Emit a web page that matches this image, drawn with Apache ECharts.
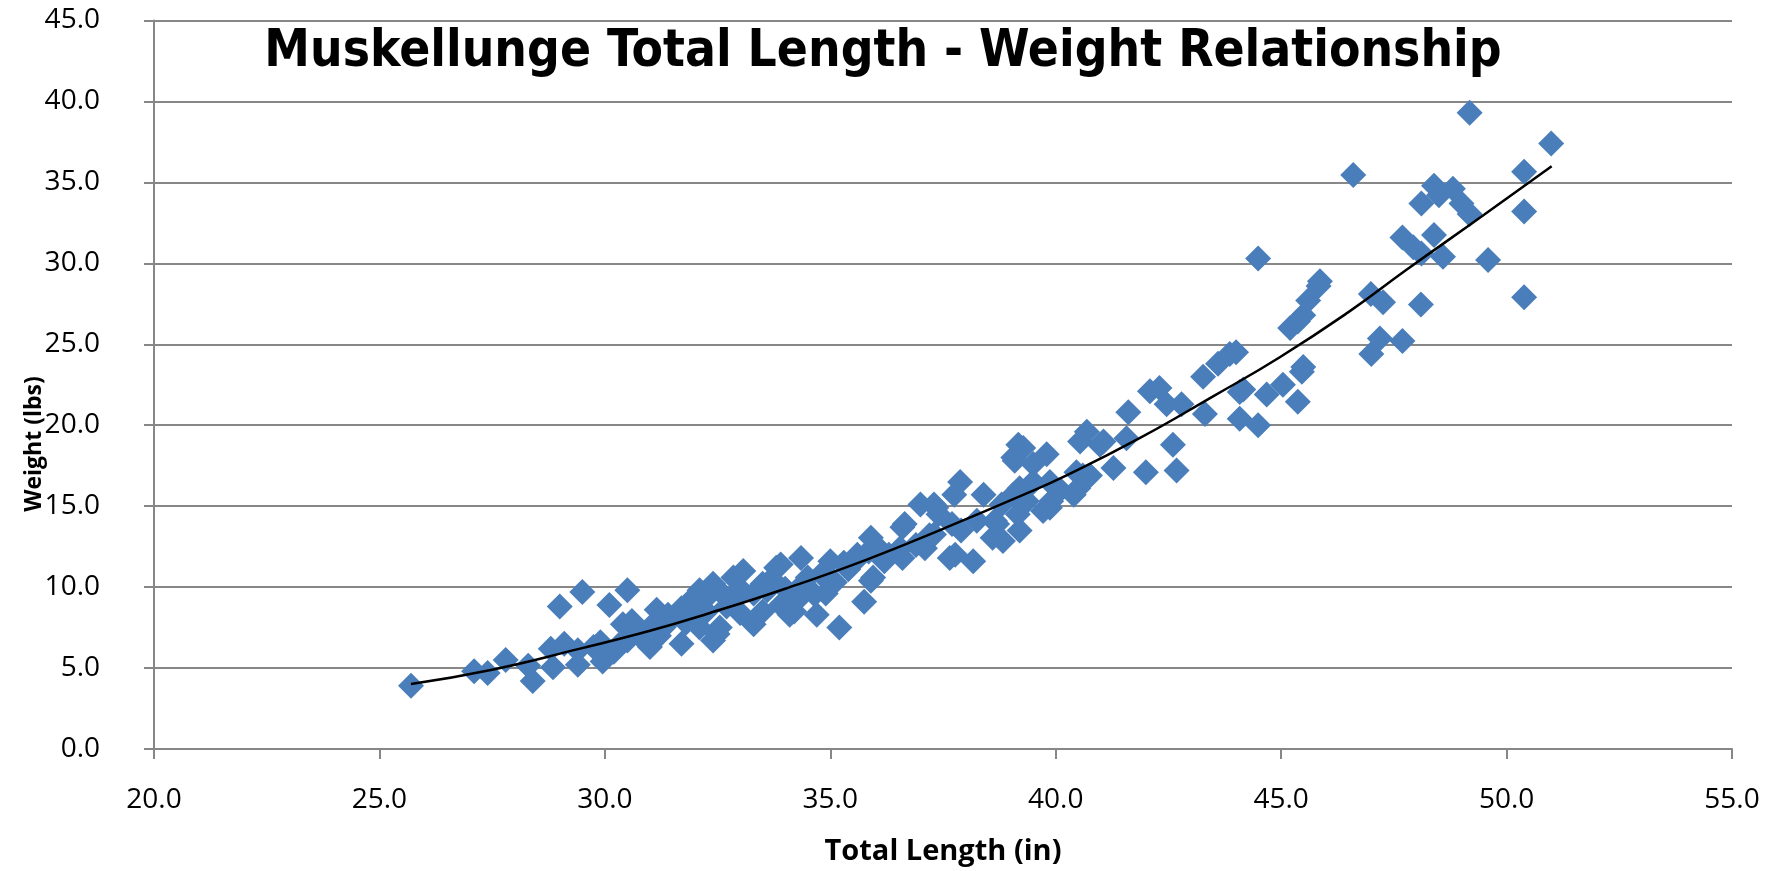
<!DOCTYPE html>
<html>
<head>
<meta charset="utf-8">
<script src="https://cdn.jsdelivr.net/npm/echarts@6/dist/echarts.min.js"></script>
<style>
html,body{margin:0;padding:0;background:#fff;}
#chart{width:1786px;height:871px;}
</style>
</head>
<body>
<div id="chart"></div>
<script>
// Total length (in) of each fish
var lengths = [
25.7,27.1,27.4,27.8,28.3,28.4,28.8,28.85,29.0,29.1,29.4,29.4,29.5,29.75,29.95,29.9,30.0,30.1,30.2,30.3,30.4,30.5,30.5,30.6,30.7,30.8,31.0,31.0,31.15,31.2,31.3,31.4,31.5,31.7,31.7,31.8,31.9,32.0,32.1,32.1,32.2,32.25,
32.4,32.55,32.4,32.5,32.6,32.7,32.85,32.9,33.0,33.0,33.07,33.3,33.3,33.5,33.5,33.6,33.7,33.8,33.9,33.9,34.0,34.1,34.2,34.3,34.35,34.4,34.5,34.7,34.65,34.8,34.9,35.0,35.1,35.2,35.3,35.4,35.55,35.6,35.75,35.85,35.9,35.9,35.95,36.0,
36.2,36.3,36.55,36.6,36.65,36.6,36.9,37.0,37.1,37.2,37.3,37.3,37.4,37.35,37.65,37.7,37.75,37.77,37.88,37.9,38.17,38.25,38.4,38.6,38.65,38.7,38.8,38.83,39.06,39.17,39.06,39.2,39.16,39.2,39.36,
39.28,39.09,39.8,39.5,39.5,39.87,39.72,39.9,39.87,40.1,40.4,40.46,40.5,40.6,40.76,40.54,40.69,40.98,41.06,41.28,41.57,41.61,42.0,42.09,42.3,42.46,42.6,42.68,42.79,
43.27,43.31,43.6,43.86,44.0,44.08,44.16,44.08,44.49,44.49,44.68,45.04,45.2,45.37,45.37,45.49,45.46,45.49,45.6,45.83,45.86,46.6,46.99,47.0,47.19,47.26,47.69,47.69,47.93,48.1,48.11,48.11,48.39,48.39,48.5,48.59,48.81,49.0,49.18,49.18,49.59,50.39,50.39,50.39,50.99
];
// Weight (lbs) of each fish, same order as lengths
var weights = [
3.9,4.8,4.7,5.5,5.15,4.2,6.2,5.05,8.8,6.5,5.2,6.1,9.7,6.3,5.4,6.6,5.8,8.9,6.0,6.4,7.7,9.8,6.7,7.9,7.3,6.9,6.3,7.5,8.6,7.0,7.5,8.3,8.1,6.5,8.7,7.8,9.15,8.2,9.8,7.5,9.2,8.5,
6.7,7.5,10.2,7.1,9.6,8.8,10.6,9.3,8.4,9.9,11.0,7.7,9.6,8.5,10.2,9.8,10.5,11.2,11.4,8.9,9.9,8.3,8.5,9.3,11.8,10.2,10.6,8.3,9.55,10.8,9.6,11.6,10.3,7.5,11.5,11.1,11.6,12.0,9.1,12.2,13.05,10.4,10.6,12.6,
11.6,12.0,12.4,13.7,13.9,11.8,12.6,15.1,12.4,13.2,15.1,13.25,14.5,14.9,11.8,13.9,15.7,12.0,16.5,13.5,11.6,14.1,15.7,13.05,14.1,13.9,15.1,12.85,18.0,18.8,15.7,13.5,14.5,16.1,15.3,
18.6,17.8,18.2,17.6,16.5,16.5,14.7,15.3,14.9,16.0,15.7,17.1,16.1,16.9,16.9,19.0,19.6,18.8,19.0,17.35,19.2,20.8,17.1,22.1,22.3,21.3,18.8,17.2,21.3,
23.0,20.7,23.8,24.4,24.5,22.05,22.2,20.4,30.3,20.0,21.9,22.5,26.0,26.4,21.45,26.8,23.3,23.6,27.7,28.6,28.9,35.45,28.1,24.4,25.35,27.6,31.6,25.2,31.0,27.45,30.6,33.7,34.8,31.75,34.2,30.4,34.6,33.7,33.05,39.3,30.2,35.65,33.2,27.9,37.4
];
// Power trend line
var trendLengths = [25.7,27.5,29.45,31.0,32.33,34.0,35.81,37.5,39.2,40.24,41.86,43.5,44.97,46.5,47.78,49.5,51.0];
var trendWeights = [4.02,4.9,6.2,7.3,8.4,9.9,11.7,13.6,15.6,16.9,19.2,21.8,24.2,27.0,29.6,33.0,36.0];

var xTicks = [20,25,30,35,40,45,50,55];
var yTicks = [0,5,10,15,20,25,30,35,40,45];

var points = lengths.map(function(v,i){return [v, weights[i]];});
var trend = trendLengths.map(function(v,i){return [v, trendWeights[i]];});

var gray = '#878787';
var chart = echarts.init(document.getElementById('chart'));
chart.setOption({
  backgroundColor:'#ffffff',
  animation:false,
  title:{
    text:'Muskellunge Total Length - Weight Relationship',
    left:878, top:22, textAlign:'center',
    textStyle:{fontFamily:"'DejaVu Sans Condensed','DejaVu Sans',sans-serif",fontWeight:'bold',fontSize:51,color:'#000'}
  },
  grid:{left:154, right:54, top:20.5, bottom:119},
  xAxis:{
    type:'value', min:xTicks[0], max:xTicks[xTicks.length-1], interval:5,
    name:'Total Length (in)', nameLocation:'middle', nameGap:88,
    nameTextStyle:{fontFamily:'Open Sans',fontWeight:'bold',fontSize:29,color:'#000'},
    axisLine:{show:true,lineStyle:{color:gray,width:2}},
    axisTick:{show:true,inside:false,length:10,lineStyle:{color:gray,width:2}},
    axisLabel:{margin:37,fontFamily:'Open Sans',fontSize:28,color:'#000',formatter:function(v){return v.toFixed(1);}},
    splitLine:{show:false}
  },
  yAxis:{
    type:'value', min:yTicks[0], max:yTicks[yTicks.length-1], interval:5,
    axisLine:{show:true,lineStyle:{color:gray,width:2}},
    axisTick:{show:true,inside:false,length:10,lineStyle:{color:gray,width:2}},
    axisLabel:{margin:54,fontFamily:'Open Sans',fontSize:28,color:'#000',formatter:function(v){return v.toFixed(1);}},
    splitLine:{show:true,lineStyle:{color:gray,width:2}}
  },
  graphic:[{
    type:'text', rotation:Math.PI/2, x:34, y:444,
    style:{text:'Weight (lbs)', fontFamily:'Open Sans', fontWeight:'bold', fontSize:23, fill:'#000', textAlign:'center', textVerticalAlign:'middle'}
  }],
  series:[{
    type:'scatter', data:points, symbol:'diamond', symbolSize:26,
    itemStyle:{color:'#4a7ebb', opacity:1}, z:2
  },{
    type:'line', data:trend, smooth:true, showSymbol:false, symbol:'none',
    lineStyle:{color:'#000',width:2.5}, z:3
  }]
});
</script>
</body>
</html>
